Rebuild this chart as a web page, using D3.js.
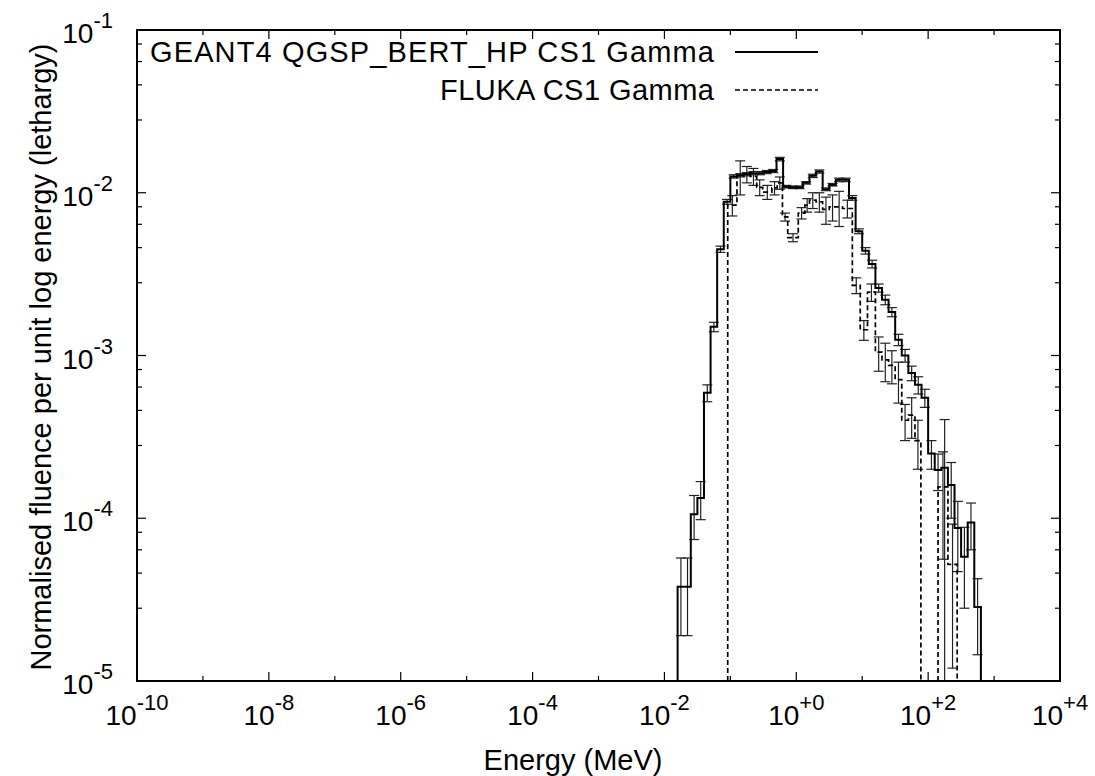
<!DOCTYPE html>
<html><head><meta charset="utf-8">
<script src="https://cdn.jsdelivr.net/npm/d3@7"></script>
<style>body{margin:0;background:#fff}svg{display:block}text{font-family:"Liberation Sans",Arial,sans-serif;fill:#000}</style>
</head><body><svg id="c" width="1095" height="776"></svg>
<script>
// ---- data (log10 of bin lower edge in MeV, bin upper edge, value, abs error) ----
const geantLo = [-1.8,-1.7,-1.6,-1.5,-1.4,-1.3,-1.2,-1.1,-1.0,-0.9,-0.8,-0.7,-0.6,-0.5,-0.4,-0.3,-0.2,-0.1,0.0,0.1,0.2,0.3,0.4,0.5,0.6,0.7,0.8,0.9,1.0,1.1,1.2,1.3,1.4,1.5,1.6,1.7,1.8,1.9,2.0,2.1,2.2,2.3,2.4,2.5,2.6,2.7];
const geantHi = [-1.7,-1.6,-1.5,-1.4,-1.3,-1.2,-1.1,-1.0,-0.9,-0.8,-0.7,-0.6,-0.5,-0.4,-0.3,-0.2,-0.1,0.0,0.1,0.2,0.3,0.4,0.5,0.6,0.7,0.8,0.9,1.0,1.1,1.2,1.3,1.4,1.5,1.6,1.7,1.8,1.9,2.0,2.1,2.2,2.3,2.4,2.5,2.6,2.7,2.8];
const geantVal = [3.8e-5,3.8e-5,1.06e-4,1.33e-4,5.9e-4,1.5e-3,4.5e-3,8.8e-3,1.26e-2,1.28e-2,1.30e-2,1.32e-2,1.32e-2,1.34e-2,1.36e-2,1.61e-2,1.09e-2,1.08e-2,1.08e-2,1.15e-2,1.27e-2,1.35e-2,1.05e-2,1.12e-2,1.20e-2,1.20e-2,9.3e-3,5.8e-3,4.4e-3,3.65e-3,2.6e-3,2.2e-3,1.85e-3,1.25e-3,1.0e-3,7.8e-4,6.6e-4,5.5e-4,2.5e-4,1.98e-4,2.04e-4,1.6e-4,8.7e-5,5.8e-5,9.4e-5,2.85e-5];
const geantErr = [1.9e-5,1.9e-5,3.2e-5,3.5e-5,7e-5,1e-4,2e-4,3e-4,3e-4,3e-4,3e-4,3e-4,3e-4,3e-4,3e-4,4e-4,2e-4,2e-4,2e-4,2e-4,3e-4,3e-4,2e-4,2e-4,3e-4,3e-4,3e-4,2e-4,2e-4,2e-4,1.5e-4,1.5e-4,1.2e-4,1e-4,9e-5,8e-5,8e-5,7e-5,5e-5,5e-5,2e-4,6e-5,4e-5,3e-5,3e-5,1.4e-5];
const flukaLo = [-1.04,-0.9,-0.8,-0.7,-0.6,-0.51,-0.37,-0.29,-0.21,-0.13,0.03,0.13,0.2,0.3,0.4,0.5,0.6,0.7,0.85,0.97,1.08,1.2,1.3,1.4,1.5,1.6,1.7,1.8,2.15,2.3];
const flukaHi = [-0.9,-0.8,-0.7,-0.6,-0.51,-0.37,-0.29,-0.21,-0.13,0.03,0.13,0.2,0.3,0.4,0.5,0.6,0.7,0.85,0.97,1.08,1.2,1.3,1.4,1.5,1.6,1.7,1.8,1.89,2.3,2.44];
const flukaVal = [8.4e-3,1.27e-2,1.30e-2,1.26e-2,1.08e-2,1.01e-2,1.07e-2,1.15e-2,7.1e-3,5.3e-3,7.5e-3,8.4e-3,9.0e-3,8.8e-3,7.9e-3,8.2e-3,8.2e-3,8.0e-3,2.7e-3,1.44e-3,2.45e-3,1.05e-3,9.4e-4,8.7e-4,7.1e-4,4.0e-4,4.3e-4,3.0e-4,1.56e-4,5.2e-5];
const flukaErr = [1.2e-3,3e-3,1.5e-3,1.5e-3,1.2e-3,1e-3,1e-3,1e-3,4e-4,3e-4,6e-4,8e-4,1e-3,1.2e-3,1.5e-3,1.5e-3,2e-3,1e-3,3e-4,2e-4,3e-4,2.5e-4,2.5e-4,2e-4,2e-4,1e-4,1.2e-4,1e-4,1e-4,4e-5];
const xTickExps = [-10,-9,-8,-7,-6,-5,-4,-3,-2,-1,0,1,2,3,4];
const xLabelExps = [-10,-8,-6,-4,-2,0,2,4];
const yTickExps = [-5,-4,-3,-2,-1];
const legendLabels = ["GEANT4 QGSP_BERT_HP CS1 Gamma","FLUKA CS1 Gamma"];

const svg = d3.select("#c");
const L=137,R=1060,T=30,B=681;
const x = d3.scaleLog().domain([1e-10,1e4]).range([L,R]);
const y = d3.scaleLog().domain([1e-5,1e-1]).range([B,T]).clamp(true);
const g = svg.append("g");

// ticks
const tk = g.append("g").attr("stroke","#000").attr("stroke-width",1.2);
xTickExps.forEach(e=>{
  const px=x(Math.pow(10,e)); const len = xLabelExps.includes(e)?9:5;
  tk.append("line").attr("x1",px).attr("x2",px).attr("y1",B).attr("y2",B-len);
  tk.append("line").attr("x1",px).attr("x2",px).attr("y1",T).attr("y2",T+len);
});
yTickExps.forEach(e=>{
  const base=Math.pow(10,e);
  const py=y(base);
  tk.append("line").attr("x1",L).attr("x2",L+9).attr("y1",py).attr("y2",py);
  tk.append("line").attr("x1",R).attr("x2",R-9).attr("y1",py).attr("y2",py);
  if(e<-1){[2.8,4.6,6.4,8.2].forEach(m=>{
    const pm=y(base*m);
    tk.append("line").attr("x1",L).attr("x2",L+5).attr("y1",pm).attr("y2",pm);
    tk.append("line").attr("x1",R).attr("x2",R-5).attr("y1",pm).attr("y2",pm);
  });}
});

// tick labels
xLabelExps.forEach(e=>{
  const t=g.append("text").attr("x",x(Math.pow(10,e))).attr("y",725).attr("text-anchor","middle").attr("font-size",28);
  t.append("tspan").text("10");
  t.append("tspan").attr("dy",-15).attr("font-size",22).text(e>0?"+"+e:(e===0?"+0":String(e)));
});
yTickExps.forEach(e=>{
  const t=g.append("text").attr("x",113).attr("y",y(Math.pow(10,e))+13).attr("text-anchor","end").attr("font-size",28);
  t.append("tspan").text("10");
  t.append("tspan").attr("dy",-15).attr("font-size",22).text(String(e));
});

// axis titles
g.append("text").attr("x",573).attr("y",770).attr("text-anchor","middle").attr("font-size",29).text("Energy (MeV)");
g.append("text").attr("transform","translate(51,357) rotate(-90)").attr("text-anchor","middle").attr("font-size",29).text("Normalised fluence per unit log energy (lethargy)");

// histogram path builder
function stepPath(lo,hi,val){
  let d="";
  let prevHi=null;
  lo.forEach((l,i)=>{
    const x0=x(Math.pow(10,l)), x1=x(Math.pow(10,hi[i])), py=y(val[i]);
    if(prevHi===null || Math.abs(prevHi-l)>1e-9){
      if(prevHi!==null) d+=`L${x(Math.pow(10,prevHi))},${B}`;
      d+=`M${x0},${B}`;
    }
    d+=`L${x0},${py}L${x1},${py}`;
    prevHi=hi[i];
  });
  d+=`L${x(Math.pow(10,prevHi))},${B}`;
  return d;
}
function errBars(lo,hi,val,err,sel){
  lo.forEach((l,i)=>{
    const cx=x(Math.pow(10,(l+hi[i])/2));
    const top=y(val[i]+err[i]);
    const lowV=val[i]-err[i];
    const bot= lowV>0? y(lowV):B;
    sel.append("line").attr("x1",cx).attr("x2",cx).attr("y1",top).attr("y2",bot);
    sel.append("line").attr("x1",cx-5).attr("x2",cx+5).attr("y1",top).attr("y2",top);
    if(lowV>0) sel.append("line").attr("x1",cx-5).attr("x2",cx+5).attr("y1",bot).attr("y2",bot);
  });
}
svg.append("defs").append("clipPath").attr("id","pc").append("rect").attr("x",L).attr("y",T).attr("width",R-L).attr("height",B-T);
const plot = g.append("g").attr("clip-path","url(#pc)");
errBars(flukaLo,flukaHi,flukaVal,flukaErr,plot.append("g").attr("stroke","#222").attr("stroke-width",1.2));
errBars(geantLo,geantHi,geantVal,geantErr,plot.append("g").attr("stroke","#222").attr("stroke-width",1.2));
plot.append("path").attr("d",stepPath(flukaLo,flukaHi,flukaVal)).attr("fill","none").attr("stroke","#000").attr("stroke-width",1.7).attr("stroke-dasharray","5,3");
plot.append("path").attr("d",stepPath(geantLo,geantHi,geantVal)).attr("fill","none").attr("stroke","#000").attr("stroke-width",2);

// legend
const lg=g.append("g");
lg.append("text").attr("x",714).attr("y",62).attr("text-anchor","end").attr("font-size",29).attr("textLength",564).attr("lengthAdjust","spacing").text(legendLabels[0]);
lg.append("text").attr("x",714).attr("y",100).attr("text-anchor","end").attr("font-size",29).attr("textLength",274).attr("lengthAdjust","spacing").text(legendLabels[1]);
lg.append("line").attr("x1",735).attr("x2",818).attr("y1",52).attr("y2",52).attr("stroke","#000").attr("stroke-width",2);
lg.append("line").attr("x1",735).attr("x2",818).attr("y1",90).attr("y2",90).attr("stroke","#000").attr("stroke-width",1.7).attr("stroke-dasharray","5,3");

// frame
g.append("rect").attr("x",L).attr("y",T).attr("width",R-L).attr("height",B-T).attr("fill","none").attr("stroke","#000").attr("stroke-width",2);
</script></body></html>
